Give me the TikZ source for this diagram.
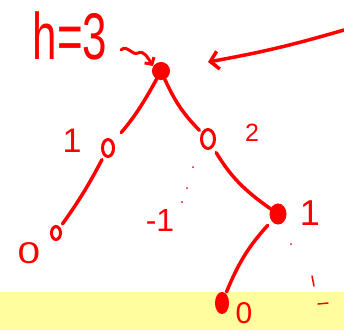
\documentclass[tikz,border=0pt]{standalone}
\usepackage{fontspec}
\setmainfont{Liberation Sans}
\usetikzlibrary{arrows.meta,shapes.geometric}
\definecolor{hlyellow}{RGB}{255,253,158}

\begin{document}
\begin{tikzpicture}[x=1pt, y=-1pt, >={Straight Barb[length=8pt,width=18pt]},
  ink/.style={red, line width=3.5pt, line cap=round, line join=round},
  blob/.style={ellipse, fill=red, draw=red, line width=1pt, inner sep=0pt, minimum width=17pt, minimum height=17pt},
  hollow/.style={ellipse, draw=red, line width=3pt, inner sep=0pt, minimum width=11pt, minimum height=17pt},
  lab/.style={red, inner sep=0pt}]

\useasboundingbox (0,0) rectangle (344,330);

% --- Fascia gialla ---
\fill[hlyellow] (0,292) rectangle (344,330);

% --- Nodi dell'albero ---
\node[blob] (root) at (161,71) {};
\node[hollow] (l) at (108,148) {};
\node[hollow, minimum width=13pt, minimum height=19pt] (r) at (208,139) {};
\node[hollow, minimum width=9pt, minimum height=13pt] (ll) at (56,233) {};
\node[blob, minimum width=16pt, minimum height=20pt] (rr) at (278,214) {};
\node[blob, minimum width=13pt, minimum height=21pt] (rrl) at (222,303) {};

% --- Archi ---
\draw[ink, shorten >=12pt] (root) to[bend left=6] (l);
\draw[ink, shorten >=3pt] (root) to[bend right=10] (r);
\draw[ink, shorten <=4pt, shorten >=4pt] (l) to[bend left=4] (ll);
\draw[ink, shorten <=6pt] (r) to[bend right=12] (rr);
\draw[ink, shorten <=6pt, shorten >=2pt] (rr) to[bend right=10] (rrl);

% --- Altezza ---
\node[lab, font=\fontsize{44}{44}\selectfont] (h) at (70,36) {\scalebox{1}[1.5]{h=3}};
\coordinate (sq) at (121,50);
\draw[ink, line width=3pt, ->, >={Straight Barb[length=5pt,width=11pt]}]
  (sq) .. controls (127,44) and (132,56) .. (138,53)
       .. controls (144,50) and (148,58) .. (153,66);

% --- Freccia dal bordo ---
\coordinate (edge) at (344,30);
\coordinate (tip) at (208,62);
\draw[ink, ->] (edge) to[bend left=3] (tip);

% --- Etichette dei nodi ---
\node[lab, font=\fontsize{34}{34}\selectfont] (n1) at (72,141) {1};
\node[lab, font=\fontsize{25}{25}\selectfont] (n2) at (252,133) {2};
\node[lab, font=\fontsize{32}{32}\selectfont] (nm1) at (160,220) {-1};
\node[lab, font=\fontsize{36}{36}\selectfont] (n3) at (310,213) {1};
\node[lab, font=\fontsize{30}{30}\selectfont, xscale=1.35] (n4) at (29,253) {0};
\node[lab, font=\fontsize{30}{30}\selectfont] (n5) at (244,313) {0};

% --- Segni sparsi ---
\foreach \x/\y in {193/167, 187/188, 182/202, 291/244}{
  \fill[red] (\x,\y) circle (1pt);
}
\draw[red, line width=1.5pt, line cap=round] (312,276) -- (314,286);
\draw[red, line width=1.5pt, line cap=round] (318,304) -- (328,303);

\end{tikzpicture}
\end{document}
